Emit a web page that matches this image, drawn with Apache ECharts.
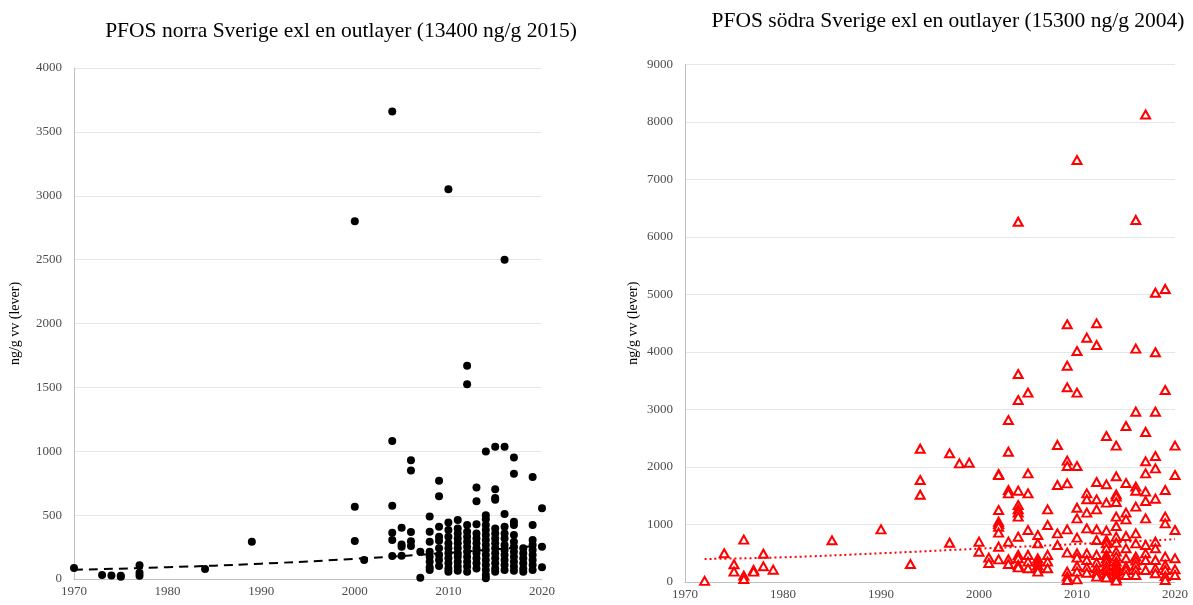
<!DOCTYPE html>
<html>
<head>
<meta charset="utf-8">
<script src="https://cdn.jsdelivr.net/npm/echarts@6/dist/echarts.min.js"></script>
<style>
html,body{margin:0;padding:0;background:#fff;}
#chart{width:1193px;height:605px;}
</style>
</head>
<body>
<div id="chart"></div>
<script>
// ---- Data: norra Sverige (left) ----
const northTitle = 'PFOS norra Sverige exl en outlayer (13400 ng/g 2015)';
const northYears = [1970, 1973, 1974, 1975, 1977, 1984, 1989, 2000, 2001, 2004, 2005, 2006, 2007, 2008, 2009, 2010, 2011, 2012, 2013, 2014, 2015, 2016, 2017, 2018, 2019, 2020];
const northValues = [
  [86],
  [31],
  [28],
  [18, 25],
  [107, 49, 26],
  [78],
  [292],
  [2800, 566, 297],
  [149],
  [3660, 1080, 574, 362, 305, 180],
  [401, 271, 253, 182],
  [929, 850, 368, 295, 258],
  [214, 10],
  [490, 370, 292, 214, 175, 136, 91, 70],
  [769, 647, 409, 331, 300, 240, 188, 149, 102],
  [3050, 443, 383, 331, 279, 240, 201, 162, 123, 83, 57],
  [462, 396, 357, 318, 279, 240, 201, 175, 136, 97, 65],
  [1670, 1525, 423, 370, 331, 292, 253, 214, 175, 136, 97, 57],
  [717, 608, 428, 357, 318, 279, 240, 201, 162, 123, 83],
  [999, 500, 467, 423, 383, 344, 305, 266, 227, 188, 149, 110, 70, 31, 5],
  [1035, 702, 634, 620, 396, 357, 318, 279, 240, 201, 162, 123, 83, 57],
  [2500, 1035, 509, 409, 357, 318, 266, 227, 188, 149, 110, 70],
  [952, 824, 449, 423, 344, 292, 253, 214, 175, 136, 97, 65],
  [240, 201, 162, 123, 83, 57],
  [798, 423, 305, 266, 227, 188, 149, 110, 70],
  [553, 253, 91]
];
const northTrendYears = [1970, 1980, 1990, 2000, 2010, 2020];
const northTrendValues = [72, 92, 120, 158, 205, 262];

// ---- Data: södra Sverige (right) ----
const southTitle = 'PFOS södra Sverige exl en outlayer (15300 ng/g 2004)';
const southYears = [1972, 1974, 1975, 1976, 1977, 1978, 1979, 1985, 1990, 1993, 1994, 1997, 1998, 1999, 2000, 2001, 2002, 2003, 2004, 2005, 2006, 2007, 2008, 2009, 2010, 2011, 2012, 2013, 2014, 2015, 2016, 2017, 2018, 2019, 2020];
const southValues = [
  [20],
  [500],
  [308, 180],
  [736, 110, 52],
  [209, 180],
  [492, 273],
  [214],
  [725],
  [916],
  [313],
  [2318, 1774, 1518],
  [2238, 683],
  [2064],
  [2075],
  [701, 527],
  [423, 330],
  [1878, 1860, 1252, 1049, 1009, 962, 858, 614, 394],
  [2817, 2266, 1600, 1542, 701, 394, 313],
  [6266, 3617, 3165, 1588, 1339, 1264, 1206, 1136, 788, 470, 412, 296, 255],
  [3293, 1890, 1542, 904, 470, 354, 238],
  [817, 672, 412, 354, 296, 238, 180],
  [1264, 991, 470, 354, 238],
  [2383, 1687, 846, 643],
  [4482, 3762, 3386, 2110, 2017, 1716, 916, 510, 180, 93, 35],
  [7339, 4017, 3293, 2017, 1292, 1107, 771, 499, 423, 278, 180, 46],
  [4249, 1542, 1438, 1206, 933, 499, 383, 255, 162],
  [4499, 4122, 1739, 1438, 1264, 916, 730, 470, 336, 238, 162, 93],
  [2539, 1699, 1380, 893, 730, 672, 586, 470, 412, 354, 278, 209, 139, 81],
  [2371, 1838, 1525, 1484, 1391, 1136, 974, 788, 684, 528, 441, 354, 296, 238, 180, 122, 64, 23],
  [2713, 1722, 1206, 1090, 800, 586, 412, 267, 209, 122],
  [6296, 4058, 2962, 1658, 1588, 1310, 846, 672, 441, 371, 296, 209, 122],
  [8130, 2609, 2099, 1890, 1571, 1409, 1107, 643, 499, 383, 209],
  [5031, 3995, 2962, 2191, 1977, 1449, 701, 586, 383, 238, 151],
  [5096, 3339, 1600, 1136, 1020, 441, 296, 209, 104, 35],
  [2371, 1861, 904, 412, 220, 122]
];
const southTrendYears = [1972, 1980, 1990, 2000, 2010, 2020];
const southTrendValues = [400, 430, 500, 579, 660, 742];

const yName = 'ng/g vv (lever)';

function flatten(years, values) {
  const out = [];
  years.forEach((y, i) => values[i].forEach(v => out.push([y, v])));
  return out;
}
function pairs(xs, ys) { return xs.map((x, i) => [x, ys[i]]); }

const serif = '"Liberation Serif", "DejaVu Serif", serif';
const labelStyle = { color: '#4d4d4d', fontFamily: serif, fontSize: 13 };

function xAxisCfg(gridIndex) {
  return {
    type: 'value', gridIndex, min: 1970, max: 2020, interval: 10,
    axisLine: { show: true, lineStyle: { color: '#bfbfbf', width: 1 } },
    axisTick: { show: false },
    splitLine: { show: false },
    axisLabel: Object.assign({ margin: 6, formatter: v => String(v) }, labelStyle)
  };
}
function yAxisCfg(gridIndex, max, interval, nameGap) {
  return {
    type: 'value', gridIndex, min: 0, max, interval,
    name: yName, nameLocation: 'middle', nameGap,
    nameTextStyle: { color: '#000', fontFamily: serif, fontSize: 14 },
    axisLine: { show: true, lineStyle: { color: '#bfbfbf', width: 1 } },
    axisTick: { show: false },
    splitLine: { show: true, lineStyle: { color: '#e6e6e6', width: 1 } },
    axisLabel: Object.assign({ margin: 12, formatter: v => String(v) }, labelStyle)
  };
}

const chart = echarts.init(document.getElementById('chart'), null, { renderer: 'canvas' });
chart.setOption({
  animation: false,
  backgroundColor: '#fff',
  title: [
    { text: northTitle, left: 336, top: 15, textAlign: 'center',
      textStyle: { fontFamily: serif, fontSize: 21.5, fontWeight: 'normal', color: '#000' } },
    { text: southTitle, left: 943, top: 5, textAlign: 'center',
      textStyle: { fontFamily: serif, fontSize: 21.5, fontWeight: 'normal', color: '#000' } }
  ],
  grid: [
    { left: 74, top: 68, width: 468, height: 511 },
    { left: 685, top: 64.5, width: 490, height: 517.5 }
  ],
  xAxis: [xAxisCfg(0), xAxisCfg(1)],
  yAxis: [yAxisCfg(0, 4000, 500, 52), yAxisCfg(1, 9000, 1000, 45)],
  series: [
    {
      type: 'scatter', xAxisIndex: 0, yAxisIndex: 0,
      data: flatten(northYears, northValues),
      symbol: 'circle', symbolSize: 8,
      itemStyle: { color: '#000', opacity: 1 }
    },
    {
      type: 'line', xAxisIndex: 0, yAxisIndex: 0,
      data: pairs(northTrendYears, northTrendValues),
      smooth: true, symbol: 'none',
      lineStyle: { color: '#000', width: 2, type: [9, 6] }
    },
    {
      type: 'scatter', xAxisIndex: 1, yAxisIndex: 1,
      data: flatten(southYears, southValues),
      symbol: 'triangle', symbolSize: [9, 8],
      itemStyle: { color: '#ffffff', opacity: 1, borderColor: '#ff0000', borderWidth: 2 }
    },
    {
      type: 'line', xAxisIndex: 1, yAxisIndex: 1,
      data: pairs(southTrendYears, southTrendValues),
      smooth: true, symbol: 'none',
      lineStyle: { color: '#ff0000', width: 2, type: [2, 3] }
    }
  ]
});
</script>
</body>
</html>
